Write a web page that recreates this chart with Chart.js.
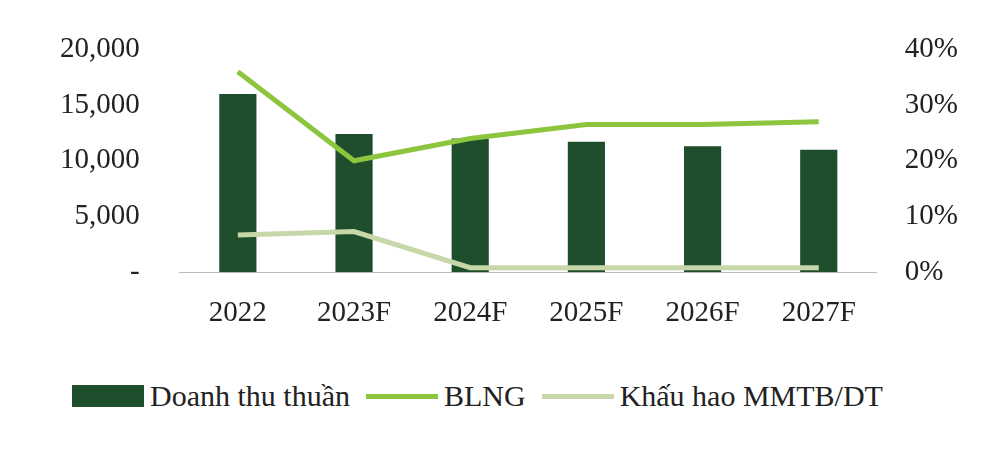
<!DOCTYPE html>
<html><head><meta charset="utf-8">
<script src="https://cdn.jsdelivr.net/npm/chart.js@4"></script>
<style>
body{margin:0;background:#fff;font-family:"Liberation Serif",serif}
#wrap{position:relative;width:1000px;height:355px}
#legend{display:flex;align-items:center;margin-left:72px;margin-top:24px;font-size:30px;color:#222}
.it{display:flex;align-items:center;margin-right:16px}
.sw{display:inline-block;margin-right:6px}
</style></head><body>
<div id="wrap"><canvas id="c"></canvas></div>
<div id="legend">
<div class="it"><span class="sw" style="width:72px;height:22px;background:#1f4e2c"></span>Doanh thu thuần</div>
<div class="it"><span class="sw" style="width:72px;height:5px;background:#8cc63e"></span>BLNG</div>
<div class="it"><span class="sw" style="width:72px;height:5px;background:#c6d7a9"></span>Khấu hao MMTB/DT</div>
</div>
<script>
// chart values
var years = ["2022", "2023F", "2024F", "2025F", "2026F", "2027F"];
var revenue = [16000, 12400, 12000, 11700, 11300, 11000];
var blng = [36, 20, 24, 26.5, 26.5, 27];
var depreciation = [6.7, 7.3, 0.8, 0.8, 0.8, 0.8];

var font = { family: "Liberation Serif", size: 29 };

new Chart(document.getElementById("c"), {
  data: {
    labels: years,
    datasets: [
      { type: "line", label: "BLNG", data: blng, yAxisID: "y1", borderColor: "#8cc63e", borderWidth: 5, pointRadius: 0, tension: 0 },
      { type: "line", label: "Khấu hao MMTB/DT", data: depreciation, yAxisID: "y1", borderColor: "#c6d7a9", borderWidth: 5, pointRadius: 0, tension: 0 },
      { type: "bar", label: "Doanh thu thuần", data: revenue, yAxisID: "y", backgroundColor: "#1f4e2c", barPercentage: 0.32, categoryPercentage: 1 },
    ],
  },
  options: {
    responsive: true,
    maintainAspectRatio: false,
    animation: false,
    layout: { padding: { top: 26, left: 28, right: 22 } },
    plugins: { legend: { display: false }, tooltip: { enabled: false } },
    scales: {
      x: {
        grid: { display: false, drawTicks: false },
        border: { color: "#bbb" },
        ticks: { font: font, color: "#222", padding: 24 },
      },
      y: {
        position: "left", min: 0, max: 20000,
        grid: { display: false }, border: { display: false },
        ticks: { stepSize: 5000, font: font, color: "#222", padding: 32,
          callback: function (v) { return v === 0 ? "-" : v.toLocaleString("en-US"); } },
      },
      y1: {
        position: "right", min: 0, max: 40,
        grid: { display: false }, border: { display: false },
        ticks: { stepSize: 10, font: font, color: "#222", padding: 20,
          callback: function (v) { return v + "%"; } },
      },
    },
  },
});
</script>
</body></html>
